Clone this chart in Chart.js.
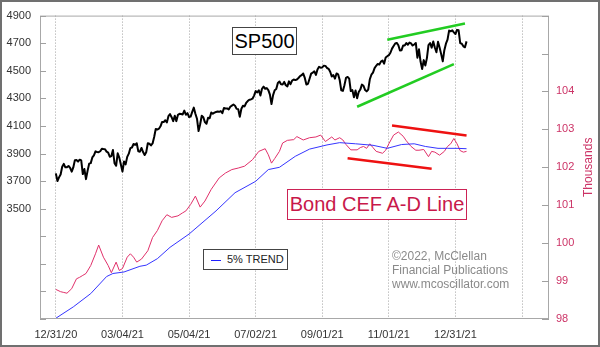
<!DOCTYPE html>
<html>
<head>
<meta charset="utf-8">
<script src="https://cdn.jsdelivr.net/npm/chart.js@4.4.1/dist/chart.umd.min.js"></script>
<style>
  html, body { margin: 0; padding: 0; background: #fff; }
  #wrap { position: relative; width: 600px; height: 347px; font-family: Arial, "Liberation Sans", sans-serif; }
  #chart { position: absolute; left: 0; top: 0; }
  #frame { position: absolute; left: 0; top: 0; width: 600px; height: 347px; box-sizing: border-box; border: 2px solid #707070; pointer-events: none; }
  .box { position: absolute; background: #fff; box-sizing: border-box; white-space: nowrap; }
  #spBox { left: 232px; top: 27px; width: 65px; height: 28px; border: 1px solid #444; font-size: 20px; line-height: 26px; text-align: center; color: #000; }
  #adBox { left: 287px; top: 189px; width: 180px; height: 31px; border: 1px solid #cc2255; font-size: 20px; line-height: 29px; text-align: center; color: #c8184a; }
  #legBox { left: 203px; top: 249px; width: 85px; height: 21px; border: 1px solid #444; font-size: 11px; line-height: 19px; color: #222; padding-left: 7px; }
  #legBox span.ln { display: inline-block; width: 10px; height: 1px; background: #2020ff; vertical-align: middle; margin-right: 6px; }
  #copy { position: absolute; left: 392px; top: 249px; font-size: 12px; line-height: 14px; color: #8a8a8a; }
</style>
</head>
<body>
<div id="wrap">
  <canvas id="chart" width="600" height="347"></canvas>
  <div class="box" id="spBox">SP500</div>
  <div class="box" id="adBox">Bond CEF A-D Line</div>
  <div class="box" id="legBox"><span class="ln"></span>5% TREND</div>
  <div id="copy">©2022, McClellan<br>Financial Publications<br>www.mcoscillator.com</div>
  <div id="frame"></div>
</div>
<script>
// S&P 500 daily closes, trading day 0 = 12/31/20
const sp500 = [
  3756.07,
  3700.65, 3726.86, 3748.14, 3803.79, 3824.68, 3799.61, 3801.19, 3809.84, 3795.54, 3768.25, 3798.91, 3851.85, 3853.07, 3841.47, 3855.36, 3849.62, 3750.77, 3787.38, 3714.24,
  3773.86, 3826.31, 3830.17, 3871.74, 3886.83, 3915.59, 3911.23, 3909.88, 3916.38, 3934.83, 3932.59, 3931.33, 3913.97, 3906.71, 3876.50, 3881.37, 3925.43, 3829.34, 3811.15,
  3901.82, 3870.29, 3819.72, 3768.47, 3841.94, 3821.35, 3875.44, 3898.81, 3939.34, 3943.34, 3968.94, 3962.71, 3974.12, 3915.46, 3913.10, 3940.59, 3910.52, 3889.14, 3909.52, 3974.54, 3971.09, 3958.55, 3972.89,
  4019.87, 4077.91, 4073.94, 4079.95, 4097.17, 4128.80, 4127.99, 4141.59, 4124.66, 4170.42, 4185.47, 4163.26, 4134.94, 4173.42, 4134.98, 4180.17, 4187.62, 4186.72, 4183.18, 4211.47, 4181.17,
  4192.66, 4164.66, 4167.59, 4201.62, 4232.60, 4188.43, 4152.10, 4063.04, 4112.50, 4173.85, 4163.29, 4127.83, 4115.68, 4159.12, 4155.86, 4197.05, 4188.13, 4195.99, 4200.88, 4204.11,
  4202.04, 4208.12, 4192.85, 4229.89, 4226.52, 4227.26, 4219.55, 4239.18, 4247.44, 4255.15, 4246.59, 4223.70, 4221.86, 4166.45, 4224.79, 4246.44, 4241.84, 4266.49, 4280.70, 4290.61, 4291.80, 4297.50,
  4319.94, 4352.34, 4343.54, 4358.13, 4320.82, 4369.55, 4384.63, 4369.21, 4374.30, 4360.03, 4327.16, 4258.49, 4323.06, 4358.69, 4367.48, 4411.79, 4422.30, 4401.46, 4400.64, 4419.15, 4395.26,
  4387.16, 4423.15, 4402.66, 4429.10, 4436.52, 4432.35, 4436.75, 4447.70, 4460.83, 4468.00, 4479.71, 4448.08, 4400.27, 4405.80, 4441.67, 4479.53, 4486.23, 4496.19, 4470.00, 4509.37, 4528.79, 4522.68,
  4524.09, 4536.95, 4535.43, 4520.03, 4514.07, 4493.28, 4458.58, 4468.73, 4443.05, 4480.70, 4473.75, 4432.99, 4357.73, 4354.19, 4395.64, 4448.98, 4455.48, 4443.11, 4352.63, 4359.46, 4307.54,
  4357.04, 4300.46, 4345.72, 4363.55, 4399.76, 4391.34, 4361.19, 4350.65, 4363.80, 4438.26, 4471.37, 4486.46, 4519.63, 4536.19, 4549.78, 4544.90, 4566.48, 4574.79, 4551.68, 4596.42, 4605.38,
  4613.67, 4630.65, 4660.57, 4680.06, 4697.53, 4701.70, 4685.25, 4646.71, 4649.27, 4682.85, 4682.80, 4700.90, 4688.67, 4704.54, 4697.96, 4682.94, 4690.70, 4701.46, 4594.62, 4655.27, 4567.00,
  4513.04, 4577.10, 4538.43, 4591.67, 4686.75, 4701.21, 4667.45, 4712.02, 4668.97, 4634.09, 4709.85, 4668.67, 4620.64, 4568.02, 4649.23, 4696.56, 4725.79, 4791.19, 4786.35, 4793.06, 4778.73, 4766.18,
  4796.56, 4793.54, 4700.58, 4696.05, 4677.03, 4670.29, 4713.07
];

// Bond CEF A-D line (thousands)
const adDays = [0, 3, 5, 7, 10, 13, 15, 17, 19, 22, 25, 27, 30, 33, 35, 38, 40, 42, 45, 47, 49, 51, 54, 58, 61, 64, 67, 70,
  73, 77, 80, 82, 85, 88, 91, 94, 98, 103, 107, 111, 115, 119, 124, 128, 132, 134, 136, 138, 141, 143, 146, 150,
  152, 156, 160, 164, 167, 170, 174, 176, 179, 181, 183, 186, 190, 192, 194, 196, 198, 200, 202, 206, 208, 210,
  213, 216, 219, 221, 224, 227, 229, 232, 235, 237, 239, 242, 245, 247, 249, 251, 253, 255, 257, 259];
const adLine = [98.78, 98.72, 98.70, 98.68, 98.80, 99.06, 99.10, 99.15, 99.20, 99.41, 99.72, 99.95, 99.63, 99.41, 99.22, 99.50, 99.28, 99.33, 99.63, 99.72, 99.63, 99.50, 99.58, 99.80, 100.15, 100.33, 100.59, 100.75,
  100.68, 100.72, 100.80, 100.85, 101.02, 101.24, 100.95, 101.11, 101.42, 101.72, 101.85, 101.94, 101.98, 102.03, 102.20, 102.42, 102.49, 102.33, 102.11, 102.23, 102.42, 102.64, 102.71, 102.73,
  102.81, 102.72, 102.78, 102.80, 102.85, 102.68, 102.80, 102.72, 102.78, 102.72, 102.60, 102.46, 102.46, 102.52, 102.55, 102.50, 102.62, 102.52, 102.42, 102.37, 102.45, 102.62,
  102.85, 102.93, 102.82, 102.70, 102.55, 102.45, 102.45, 102.47, 102.28, 102.42, 102.40, 102.32, 102.42, 102.55, 102.62, 102.76, 102.62, 102.44, 102.40, 102.42];

// 5% trend of the A-D line
const trendDays = [0, 11, 22, 32, 36, 43, 53, 57, 64, 72, 84, 101, 113, 126, 134, 141, 151, 160, 171, 179, 189, 200, 209, 218, 226, 233, 241, 247, 253, 259];
const trendLine = [98.02, 98.32, 98.67, 99.12, 99.20, 99.24, 99.39, 99.42, 99.59, 99.89, 100.24, 100.85, 101.33, 101.63, 101.94, 102.00, 102.29, 102.48, 102.59, 102.65, 102.62, 102.58, 102.50, 102.60, 102.62, 102.55, 102.50, 102.50, 102.50, 102.49];

// hand-drawn trend channels
const spUpperX = [209, 258], spUpperY = [4725, 4842];
const spLowerX = [190, 251], spLowerY = [4239, 4548];
const adUpperX = [212, 259], adUpperY = [103.10, 102.84];
const adLowerX = [184, 237], adLowerY = [102.24, 101.96];

// axes
const dateTickDays = [0, 42, 84, 126, 168, 210, 252, 294];
const dateTickLabels = ['12/31/20', '03/04/21', '05/04/21', '07/02/21', '09/01/21', '11/01/21', '12/31/21', ''];
const spTicks = [2700, 2900, 3100, 3300, 3500, 3700, 3900, 4100, 4300, 4500, 4700, 4900];
const adTicks = [98, 99, 100, 101, 102, 103, 104, 105, 106];

function pts(xs, ys) {
  return xs.map((x, i) => ({ x: x, y: ys[i] }));
}

// plot frame, inside tick marks, right axis title
const framePlugin = {
  id: 'framePlugin',
  afterDraw(chart) {
    const { ctx, chartArea: a, scales } = chart;
    ctx.save();
    ctx.lineWidth = 1;
    ctx.strokeStyle = '#a8a8a8';
    ctx.strokeRect(a.left + 0.5, a.top + 0.5, a.width - 1, a.height - 1);
    ctx.strokeStyle = '#a0a0a0';
    spTicks.forEach(v => {
      const y = Math.round(scales.y.getPixelForValue(v)) + 0.5;
      ctx.beginPath(); ctx.moveTo(a.left, y); ctx.lineTo(a.left + 6, y); ctx.stroke();
    });
    adTicks.forEach(v => {
      const y = Math.round(scales.y2.getPixelForValue(v)) + 0.5;
      ctx.beginPath(); ctx.moveTo(a.right - 7, y); ctx.lineTo(a.right, y); ctx.stroke();
    });
    ctx.translate(589, (a.top + a.bottom) / 2);
    ctx.rotate(-Math.PI / 2);
    ctx.fillStyle = '#cc3366';
    ctx.font = '12px Arial';
    ctx.textAlign = 'center';
    ctx.textBaseline = 'middle';
    ctx.fillText('Thousands', 0, 0);
    ctx.restore();
  }
};

const ctx = document.getElementById('chart').getContext('2d');
new Chart(ctx, {
  type: 'line',
  data: {
    datasets: [
      { data: pts(spUpperX, spUpperY), yAxisID: 'y', borderColor: '#22cc22', borderWidth: 2.5 },
      { data: pts(spLowerX, spLowerY), yAxisID: 'y', borderColor: '#22cc22', borderWidth: 2.5 },
      { data: pts(adUpperX, adUpperY), yAxisID: 'y2', borderColor: '#ee1111', borderWidth: 2.5 },
      { data: pts(adLowerX, adLowerY), yAxisID: 'y2', borderColor: '#ee1111', borderWidth: 2.5 },
      { data: sp500.map((v, i) => ({ x: i, y: v })), yAxisID: 'y', borderColor: '#000', borderWidth: 2 },
      { data: pts(trendDays, trendLine), yAxisID: 'y2', borderColor: '#3535ff', borderWidth: 1 },
      { data: pts(adDays, adLine), yAxisID: 'y2', borderColor: '#e0306a', borderWidth: 1 }
    ]
  },
  options: {
    responsive: false,
    animation: false,
    devicePixelRatio: 1,
    layout: { padding: { top: 12, left: 0, right: 0, bottom: 0 } },
    elements: { point: { radius: 0 }, line: { tension: 0, borderJoinStyle: 'round' } },
    plugins: { legend: { display: false }, tooltip: { enabled: false } },
    scales: {
      x: {
        type: 'linear',
        min: -10,
        max: 311,
        afterBuildTicks(s) { s.ticks = dateTickDays.map(v => ({ value: v })); },
        afterFit(s) { s.height = 28; },
        grid: { color: '#a0a0a0', drawTicks: false },
        border: { display: false, dash: [1, 2] },
        ticks: {
          padding: 9,
          color: '#333',
          font: { family: 'Arial', size: 11 },
          maxRotation: 0,
          autoSkip: false,
          callback: (v) => dateTickLabels[dateTickDays.indexOf(v)] || ''
        }
      },
      y: {
        position: 'left',
        min: 2700,
        max: 4900,
        afterBuildTicks(s) { s.ticks = spTicks.map(v => ({ value: v })); },
        afterFit(s) { s.width = 40; },
        grid: { display: false, drawTicks: false },
        border: { display: false },
        ticks: {
          padding: 9,
          color: '#333',
          font: { family: 'Arial', size: 11 },
          callback: (v) => v >= 3500 ? String(v) : ''
        }
      },
      y2: {
        position: 'right',
        min: 98,
        max: 106,
        afterBuildTicks(s) { s.ticks = adTicks.map(v => ({ value: v })); },
        afterFit(s) { s.width = 51; },
        grid: { display: false, drawTicks: false },
        border: { display: false },
        ticks: {
          padding: 7,
          color: '#cc3366',
          font: { family: 'Arial', size: 11 },
          callback: (v) => v <= 104 ? String(v) : ''
        }
      }
    }
  },
  plugins: [framePlugin]
});
</script>
</body>
</html>
